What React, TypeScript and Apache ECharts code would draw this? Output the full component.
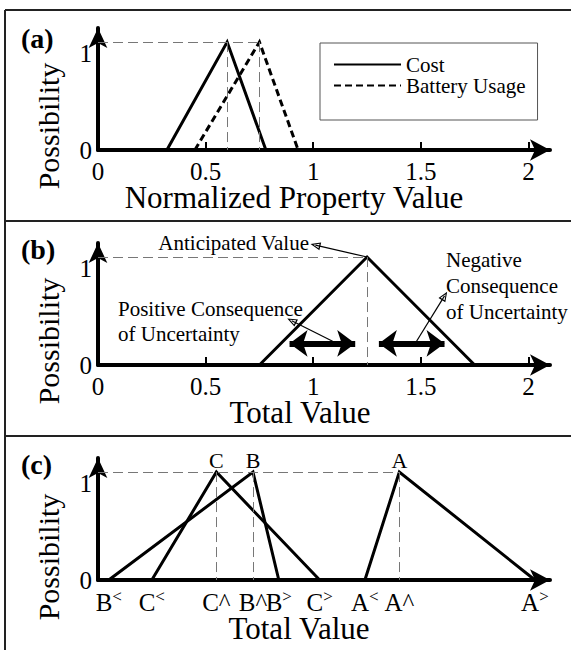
import React, { useEffect, useRef } from "react";
import * as echarts from "echarts";

// ---------- data ----------
const possibility = [0, 1, 0];
const costTri = [0.32, 0.6, 0.78];
const batteryTri = [0.45, 0.75, 0.93];
const totalTri = [0.75, 1.25, 1.75];
const altA = [1.24, 1.4, 2.03];
const altB = [0.05, 0.72, 0.84];
const altC = [0.25, 0.55, 1.03];
const xTicks = [0, 0.5, 1, 1.5, 2];
const xTickMarks = [0.5, 1, 1.5, 2];
const yTicks = [0, 1];
const cTickNames = ["B<", "C<", "C^", "B^", "B>", "C>", "A<", "A^", "A>"];
const cTickValues = [altB[0], altC[0], altC[1], altB[1], altB[2], altC[2], altA[0], altA[1], altA[2]];
const arrowLevel = 0.2;

const FONT = "'Liberation Serif', 'Times New Roman', serif";
const BLACK = "#000";

const tri = (t: number[]) => t.map((x, i) => [x, possibility[i]]);

const HOLLOW = "path://M5,0 L10,12 L0,12 Z M5,3.5 L2,10.5 L8,10.5 Z";

function yAxisCfg(i: number) {
  return {
    type: "value",
    gridIndex: i,
    min: 0,
    max: 1.13,
    axisLine: { show: true, onZero: false, symbol: ["none", "arrow"], symbolSize: [14, 20], lineStyle: { color: BLACK, width: 4 } },
    axisTick: { show: false },
    splitLine: { show: false },
    axisLabel: {
      customValues: yTicks,
      margin: 6,
      color: BLACK,
      fontSize: 25,
      fontFamily: FONT,
      formatter: (v: number) => (v === 1 ? "{one|1}" : "{zero|0}"),
      rich: {
        one: { fontSize: 25, fontFamily: FONT, color: BLACK, lineHeight: 24, padding: [22, 0, 0, 0] },
        zero: { fontSize: 25, fontFamily: FONT, color: BLACK, lineHeight: 24 },
      },
    },
  };
}

function xAxisCfg(i: number, ticks: boolean) {
  return {
    type: "value",
    gridIndex: i,
    min: 0,
    max: 2.1,
    axisLine: { show: true, onZero: false, symbol: ["none", "arrow"], symbolSize: [16, 20], lineStyle: { color: BLACK, width: 4 } },
    axisTick: ticks
      ? { show: true, inside: true, length: 8, customValues: xTickMarks, lineStyle: { color: BLACK, width: 2 } }
      : { show: false },
    splitLine: { show: false },
    axisLabel: {
      customValues: xTicks,
      margin: 9,
      color: BLACK,
      fontSize: 25,
      fontFamily: FONT,
      showMinLabel: true,
      showMaxLabel: true,
      formatter: (v: number) => "{t|" + v + "}",
      rich: { t: { fontSize: 25, fontFamily: FONT, color: BLACK, lineHeight: 24 } },
    },
  };
}

const dashStyle = { color: "#777", width: 1, type: [10, 5] };

function helper(xi: number, lines: any[], style: any, symbol: any = ["none", "none"], symbolSize: any = 10) {
  return {
    type: "line",
    xAxisIndex: xi,
    yAxisIndex: xi,
    data: [],
    silent: true,
    markLine: {
      silent: true,
      animation: false,
      symbol,
      symbolSize,
      label: { show: false },
      lineStyle: style,
      emphasis: { disabled: true },
      data: lines,
    },
  };
}

const mainLine = { color: BLACK, width: 3, join: "miter" };

export default function App() {
  const ref = useRef<HTMLDivElement>(null);
  useEffect(() => {
    if (!ref.current) return;
    const chart = echarts.init(ref.current, null, { renderer: "svg" });
    const cX = xAxisCfg(2, false) as any;
    cX.axisLabel = {
      ...cX.axisLabel,
      customValues: cTickValues,
      margin: 10,
      formatter: (v: number) => {
        let best = 0;
        for (let i = 1; i < cTickValues.length; i++) {
          if (Math.abs(cTickValues[i] - v) < Math.abs(cTickValues[best] - v)) best = i;
        }
        const n = cTickNames[best];
        if (n[1] === "<" || n[1] === ">") return "{base|" + n[0] + "}{sup|" + n[1] + "}";
        return "{base|" + n + "}";
      },
      rich: {
        base: { fontSize: 25, fontFamily: FONT, color: BLACK, lineHeight: 24 },
        sup: { fontSize: 17, fontFamily: FONT, color: BLACK, lineHeight: 12, padding: [0, 0, 12, 0] },
      },
    };

    const peakLabel = (name: string) => ({
      show: true,
      formatter: name,
      position: "top",
      distance: 1,
      fontSize: 22,
      fontFamily: FONT,
      color: BLACK,
    });
    const altData = (t: number[], name: string) => [
      [t[0], possibility[0]],
      { value: [t[1], possibility[1]], label: peakLabel(name) },
      [t[2], possibility[2]],
    ];

    const text = (t: string, x: number, y: number, size: number, extra: any = {}, elExtra: any = {}) => ({
      type: "text",
      x,
      y,
      silent: true,
      ...elExtra,
      style: {
        text: t,
        font: (extra.fontWeight ? extra.fontWeight + " " : "") + size + "px " + FONT,
        fontSize: size,
        fontFamily: FONT,
        fill: BLACK,
        align: "left",
        textAlign: "left",
        verticalAlign: "middle",
        textVerticalAlign: "middle",
        ...extra,
      },
    });
    const frame = (x1: number, y1: number, x2: number, y2: number) => ({
      type: "line",
      silent: true,
      shape: { x1, y1, x2, y2 },
      style: { stroke: "#222", lineWidth: 2 },
    });

    chart.setOption({
      animation: false,
      backgroundColor: "#fff",
      textStyle: { fontFamily: FONT },
      grid: [
        { left: 98, top: 28, width: 452, height: 122, outerBoundsMode: "none" },
        { left: 98, top: 243, width: 452, height: 122, outerBoundsMode: "none" },
        { left: 98, top: 458, width: 452, height: 122, outerBoundsMode: "none" },
      ],
      xAxis: [xAxisCfg(0, true), xAxisCfg(1, true), cX],
      yAxis: [yAxisCfg(0), yAxisCfg(1), yAxisCfg(2)],
      legend: {
        data: ["Cost", "Battery Usage"],
        orient: "vertical",
        left: 320,
        top: 43,
        padding: [11, 12, 24, 13],
        itemGap: 0,
        itemWidth: 67,
        itemHeight: 14,
        borderColor: "#555",
        borderWidth: 1,
        selectedMode: false,
        itemStyle: { opacity: 0, borderWidth: 0 },
        formatter: (n: string) => "{l|" + n + "}",
        textStyle: {
          fontSize: 21,
          fontFamily: FONT,
          color: BLACK,
          lineHeight: 21,
          rich: { l: { fontSize: 21, fontFamily: FONT, color: BLACK, lineHeight: 21 } },
        },
      },
      series: [
        // panel (a)
        helper(
          0,
          [
            [{ coord: [0, possibility[1]] }, { coord: [batteryTri[1], possibility[1]] }],
            [{ coord: [costTri[1], possibility[1]] }, { coord: [costTri[1], 0] }],
            [{ coord: [batteryTri[1], possibility[1]] }, { coord: [batteryTri[1], 0] }],
          ],
          dashStyle
        ),
        {
          name: "Cost",
          type: "line",
          xAxisIndex: 0,
          yAxisIndex: 0,
          data: tri(costTri),
          symbol: "none",
          silent: true,
          color: BLACK,
          lineStyle: mainLine,
        },
        {
          name: "Battery Usage",
          type: "line",
          xAxisIndex: 0,
          yAxisIndex: 0,
          data: tri(batteryTri),
          symbol: "none",
          silent: true,
          color: BLACK,
          lineStyle: { ...mainLine, type: [7, 4] },
        },
        // panel (b)
        helper(
          1,
          [
            [{ coord: [0, possibility[1]] }, { coord: [totalTri[1], possibility[1]] }],
            [{ coord: [totalTri[1], possibility[1]] }, { coord: [totalTri[1], 0] }],
          ],
          dashStyle
        ),
        helper(
          1,
          [
            [{ coord: [0.89, arrowLevel] }, { coord: [1.195, arrowLevel] }],
            [{ coord: [1.305, arrowLevel] }, { coord: [1.61, arrowLevel] }],
          ],
          { color: BLACK, width: 6, type: "solid" },
          ["arrow", "arrow"],
          [20, 18]
        ),
        helper(
          1,
          [
            [{ coord: [totalTri[1], possibility[1]] }, { coord: [1.01, 1.11] }],
            [{ coord: [1.09, 0.22] }, { coord: [0.9, 0.41] }],
            [{ coord: [1.48, 0.22] }, { coord: [1.61, 0.64] }],
          ],
          { color: BLACK, width: 1.2, type: "solid" },
          ["none", HOLLOW],
          [8, 10]
        ),
        {
          name: "Total",
          type: "line",
          xAxisIndex: 1,
          yAxisIndex: 1,
          data: tri(totalTri),
          symbol: "none",
          silent: true,
          color: BLACK,
          lineStyle: mainLine,
        },
        // panel (c)
        helper(
          2,
          [
            [{ coord: [0, possibility[1]] }, { coord: [altA[1], possibility[1]] }],
            [{ coord: [altC[1], possibility[1]] }, { coord: [altC[1], 0] }],
            [{ coord: [altB[1], possibility[1]] }, { coord: [altB[1], 0] }],
            [{ coord: [altA[1], possibility[1]] }, { coord: [altA[1], 0] }],
          ],
          dashStyle
        ),
        ...[
          ["A", altA],
          ["B", altB],
          ["C", altC],
        ].map(([n, t]: any) => ({
          name: "Alt " + n,
          type: "line",
          xAxisIndex: 2,
          yAxisIndex: 2,
          data: altData(t, n),
          symbol: "circle",
          symbolSize: 0,
          showSymbol: true,
          silent: true,
          color: BLACK,
          lineStyle: mainLine,
        })),
      ],
      graphic: [
        frame(5, 10, 571, 10),
        frame(5, 10, 5, 650),
        frame(5, 221, 571, 221),
        frame(5, 436, 571, 436),
        text("(a)", 21, 38, 28, { fontWeight: "bold" }),
        text("(b)", 21, 249, 28, { fontWeight: "bold" }),
        text("(c)", 21, 464, 28, { fontWeight: "bold" }),
        text("Possibility", 48, 126, 30, { align: "center", textAlign: "center", lineHeight: 30 }, { rotation: Math.PI / 2 }),
        text("Possibility", 48, 341, 30, { align: "center", textAlign: "center", lineHeight: 30 }, { rotation: Math.PI / 2 }),
        text("Possibility", 48, 557, 30, { align: "center", textAlign: "center", lineHeight: 30 }, { rotation: Math.PI / 2 }),
        text("Normalized Property Value", 294, 197, 31, { align: "center", textAlign: "center", lineHeight: 27 }),
        text("Total Value", 300, 412, 31, { align: "center", textAlign: "center", lineHeight: 27 }),
        text("Total Value", 299, 628, 31, { align: "center", textAlign: "center", lineHeight: 27 }),
        text("Anticipated Value", 309, 243, 21, { align: "right", textAlign: "right" }),
        text("Positive Consequence\nof Uncertainty", 118, 296, 21, { verticalAlign: "top", textVerticalAlign: "top", lineHeight: 25 }),
        text("Negative\nConsequence\nof Uncertainty", 446, 247, 21, { verticalAlign: "top", textVerticalAlign: "top", lineHeight: 26 }),
      ],
    });
    return () => chart.dispose();
  }, []);
  return (
    <div
      ref={ref}
      style={{ position: "absolute", left: 0, top: 0, width: 571, height: 650, background: "#fff" }}
    />
  );
}
